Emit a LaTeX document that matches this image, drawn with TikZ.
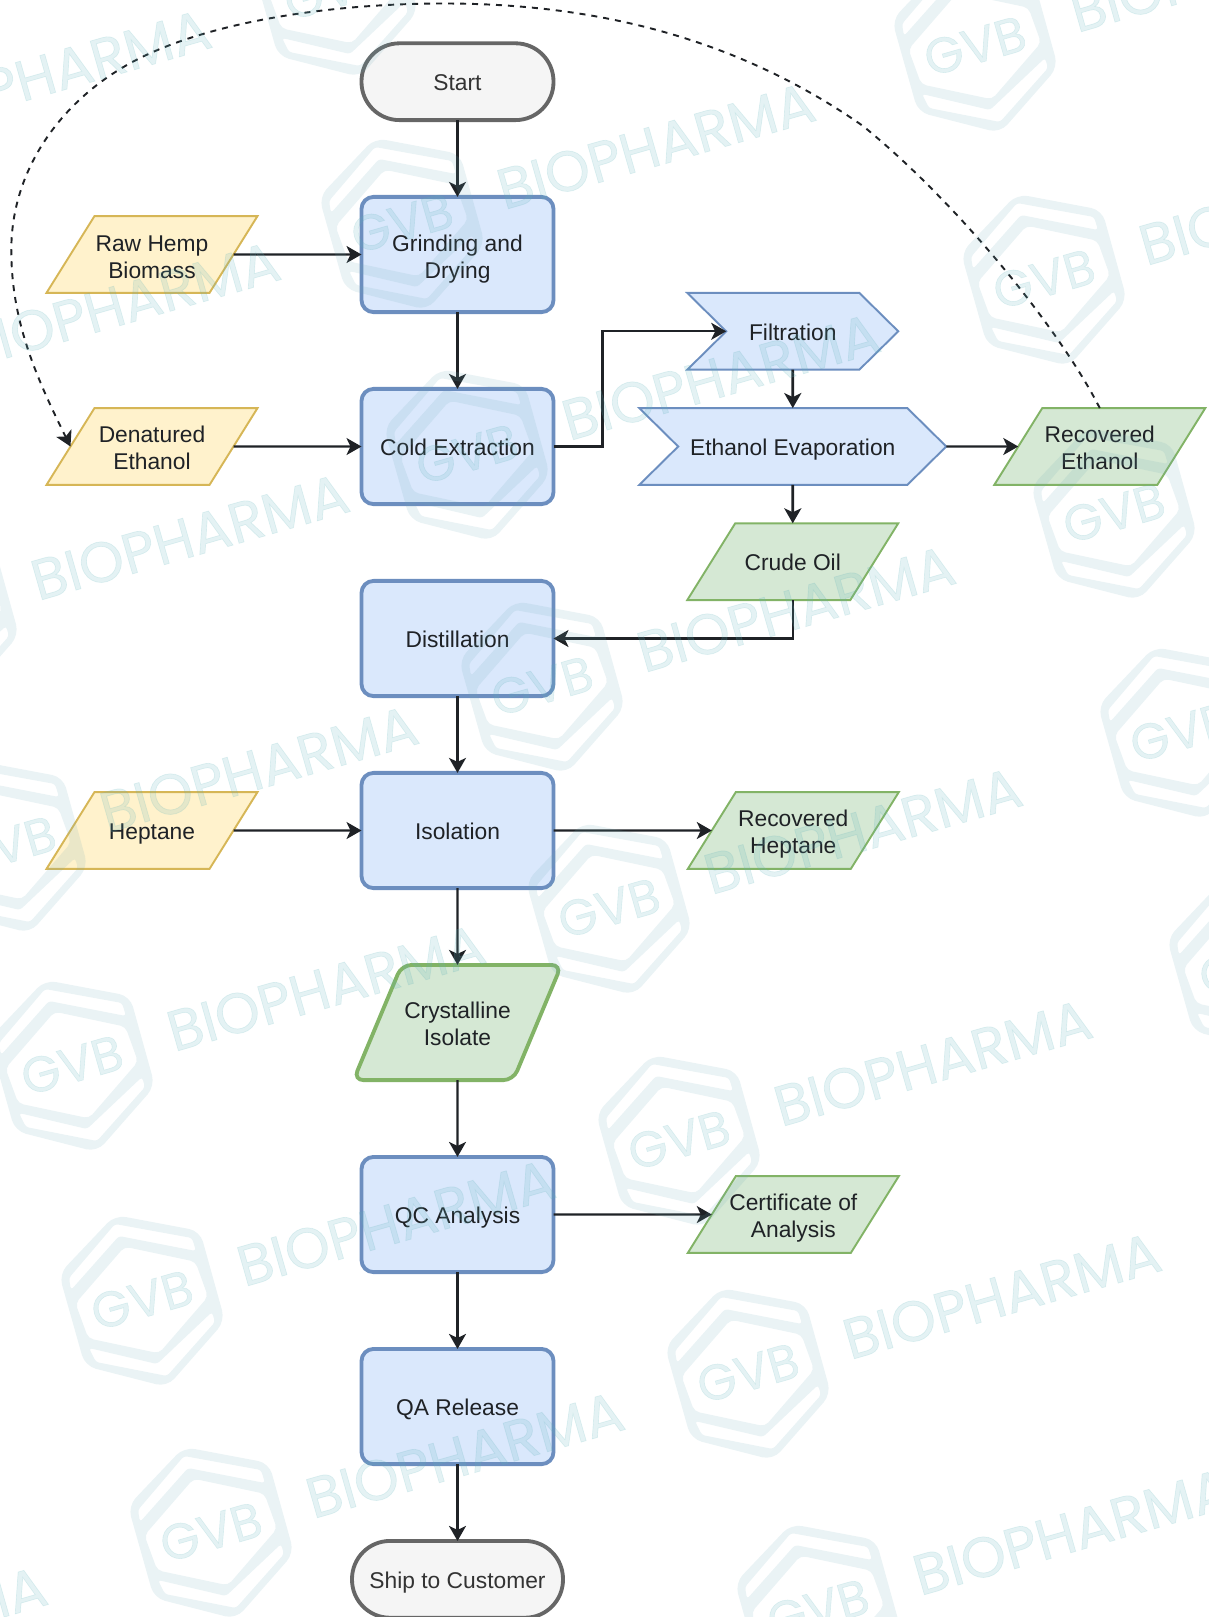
\documentclass[tikz,border=0pt]{standalone}
\usepackage{fontspec}
\setmainfont{Liberation Sans}
\newfontfamily\markfont[FakeBold=1.2]{Poppins}
\usetikzlibrary{positioning}
\usetikzlibrary{shapes.geometric}
\usetikzlibrary{shapes.symbols}
\usetikzlibrary{arrows.meta}
\definecolor{bluefill}{HTML}{DAE8FC}
\definecolor{blueline}{HTML}{6C8EBF}
\definecolor{yellowfill}{HTML}{FFF2CC}
\definecolor{yellowline}{HTML}{D6B656}
\definecolor{greenfill}{HTML}{D5E8D4}
\definecolor{greenline}{HTML}{82B366}
\definecolor{greyfill}{HTML}{F5F5F5}
\definecolor{greyline}{HTML}{666666}
\definecolor{inkdark}{HTML}{1F2226}
\definecolor{marktext}{HTML}{5FB3BB}
\definecolor{markband}{HTML}{6CA9B6}
\tikzstyle{base} = [outer sep=0pt, inner sep=0pt, text=inkdark,
font=\fontsize{22.8}{27}\selectfont,
execute at begin node={\rule{0pt}{47.1pt}}, execute at end node={\rule[-29.7pt]{0pt}{29.7pt}}]
\tikzstyle{process} = [base, rectangle, rounded corners=12pt, draw=blueline, fill=bluefill,
line width=3.84pt, minimum width=192pt, minimum height=115.2pt]
\tikzstyle{terminal} = [base, rectangle, rounded corners=38pt, draw=greyline, fill=greyfill,
line width=3.84pt, minimum height=76.8pt, text=black!80]
\tikzstyle{slanted} = [base, trapezium, trapezium left angle=58, trapezium right angle=122,
trapezium stretches body, line width=1.92pt, minimum width=211pt, minimum height=76.8pt]
\tikzstyle{tallbox} = [execute at begin node={\rule{0pt}{66.3pt}}, execute at end node={\rule[-48.9pt]{0pt}{48.9pt}}]
\tikzstyle{input} = [slanted, draw=yellowline, fill=yellowfill]
\tikzstyle{output} = [slanted, draw=greenline, fill=greenfill]
\tikzstyle{chevron} = [base, signal, signal to=east, signal from=west, signal pointer angle=89.2,
draw=blueline, fill=bluefill, line width=1.92pt, minimum height=76.8pt]
\tikzstyle{flow} = [->, draw=inkdark, line width=2.2pt]
\tikzstyle{recycle} = [flow, line width=1.92pt, dash pattern=on 6pt off 6pt]
\tikzstyle{markword} = [font=\markfont\fontsize{57}{57}\selectfont, text=marktext, opacity=0.17, inner sep=0pt]
\tikzset{>={Stealth[length=15pt, width=17pt, inset=4pt]}}
\newcommand{\twolines}[3][-0.5pt]{\raisebox{#1}{\begin{tabular}{@{}c@{}}#2\\#3\end{tabular}}}
\newcommand{\gvbmark}[2]{ %
  % One hexagon with its word, centred at (#1,#2).
  \begin{scope}[shift={(#1,#2)}]
    \fill[markband, opacity=0.14, even odd rule, rounded corners=11pt]
      (-27,-85) -- (58,-69) -- (83,21) -- (25,87) -- (-57,66) -- (-83,-26) -- cycle
      [rounded corners=5pt]
      (-17.4,-53.3) -- (53.4,-38.3) -- (66,-3.3) -- (17,53.3) -- (-53.7,38.3) -- (-66.5,3.3) -- cycle
      [rounded corners=3pt]
      (-73,-22) -- (-27,-76) -- (50,-62) -- (54,-49) -- (-23,-64) -- (-71,-10) -- cycle
      (70,12) -- (73,22) -- (25,76) -- (-46,62) -- (-53,48) -- (15,64) -- cycle;
    \node[markword, font=\markfont\fontsize{50}{50}\selectfont, rotate=16] (gvb) at (0,0) {GVB};
    \node[markword, rotate=16, anchor=base west] (word) at (102,-13) {BIOPHARMA};
  \end{scope}
}

\begin{document}
\begin{tikzpicture}[x=1pt, y=-1pt, node distance=76.8pt]
  \useasboundingbox (0,0) rectangle (1209,1617);

  \node[terminal, minimum width=192pt] (start) at (457.5,81.7) {Start};
  \node[process, below=of start] (grinding) {\twolines[-1.5pt]{Grinding and}{Drying}};
  \node[process, below=of grinding] (extraction) {Cold Extraction};
  \node[process, below=of extraction] (distillation) {Distillation};
  \node[process, below=of distillation] (isolation) {Isolation};
  \node[output, tallbox, below=of isolation, line width=3.84pt, rounded corners=10pt, minimum width=208pt,
    minimum height=115.2pt, trapezium left angle=67.3, trapezium right angle=112.7] (crystal)
    {\twolines{Crystalline}{Isolate}};
  \node[process, below=of crystal] (qc) {QC Analysis};
  \node[process, below=of qc] (qa) {QA Release};
  \node[terminal, below=of qa, minimum width=211pt] (ship) {Ship to Customer};

  \node[input, left=128pt of grinding] (hemp) {\twolines[-1.5pt]{Raw Hemp}{Biomass}};
  \node[input, left=128pt of extraction] (denatured) {\twolines{Denatured}{Ethanol}};
  \node[input, left=128pt of isolation] (heptane) {Heptane};

  \node[chevron, minimum width=307pt, right=124.7pt of extraction] (evaporation) {Ethanol Evaporation};
  \node[chevron, minimum width=211pt, above=38.4pt of evaporation] (filtration) {Filtration};
  \node[output, below=38.4pt of evaporation] (crude) {Crude Oil};
  \node[output, right=72pt of evaporation] (ethanol) {\twolines{Recovered}{Ethanol}};
  \node[output, right=158.3pt of isolation] (recheptane) {\twolines{Recovered}{Heptane}};
  \node[output, right=158.3pt of qc] (certificate) {\makebox[110pt]{\twolines{Certificate of}{Analysis}}};

  \foreach \a/\b in {start/grinding, grinding/extraction, distillation/isolation, isolation/crystal,
    crystal/qc, qc/qa, qa/ship, hemp/grinding, denatured/extraction, heptane/isolation,
    evaporation/ethanol, isolation/recheptane, qc/certificate} {
    \draw[flow] (\a) -- (\b);
  }
  \draw[flow, line width=2.8pt] (filtration) -- (evaporation);
  \draw[flow, line width=2.8pt] (evaporation) -- (crude);
  \draw[flow] (extraction.east) -- ++(49,0) |- (filtration.west);
  \draw[flow] (crude.south) |- (distillation.east);

  \draw[recycle] (ethanol.north) .. controls (1060,330) and (960,205) .. (863,126)
    .. controls (740,40) and (600,3.5) .. (444,3.5)
    .. controls (320,3.5) and (190,25) .. (118.6,70)
    .. controls (60,106) and (11.3,170) .. (11.3,250)
    .. controls (11.3,320) and (35,375) .. (denatured.west);

  % watermark goes over everything
  \foreach \mx/\my in {335/-10, 402/223, 467/454, 542/686, 609/908, 679/1140, 748/1373, 818/1609,
    975/46, 1044/279, 1114/513, 1181/732, 1250/965,
    -202/150, -133/382, -64/614, 5/846, 72/1065, 142/1300, 211/1532, -366/1707} {
    \gvbmark{\mx}{\my}
  }
\end{tikzpicture}
\end{document}
